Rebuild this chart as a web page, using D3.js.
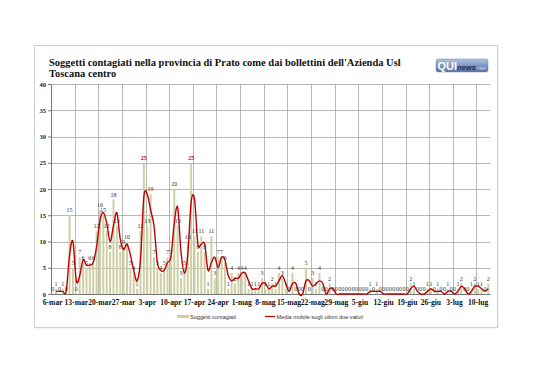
<!DOCTYPE html>
<html><head><meta charset="utf-8">
<script src="https://cdn.jsdelivr.net/npm/d3@7"></script>
<style>
html,body{margin:0;padding:0;background:#fff;}
svg{display:block;}
</style></head>
<body>
<script>
// ---- DATA ----
const startDate = "2020-03-06";
const cases = [0,1,0,1,0,15,5,0,7,6,5,6,6,12,16,15,12,8,18,13,8,9,10,5,4,1,12,25,13,19,7,5,4,5,7,7,20,13,3,5,10,25,11,8,11,8,1,11,3,7,7,6,1,4,2,4,4,4,1,1,1,1,3,1,1,2,1,4,3,1,0,4,0,0,0,5,0,3,1,4,0,0,2,0,0,0,0,0,0,0,0,0,0,0,1,0,1,0,0,0,0,0,0,0,0,0,2,1,0,0,0,1,1,0,1,0,0,1,0,0,1,2,0,0,1,2,1,1,0,2];
const movingAvg = [null,0.5,0.5,0.5,0.5,7.5,10,2.5,3.5,6.5,5.5,5.5,6,9,14,15.5,13.5,10,13,15.5,10.5,8.5,9.5,7.5,4.5,2.5,6.5,18.5,19,16,13,6,4.5,4.5,6,7,13.5,16.5,8,4,7.5,17.5,18,9.5,9.5,9.5,4.5,6,7,5,7,6.5,3.5,2.5,3,3,4,4,2.5,1,1,1,2,2,1,1.5,1.5,2.5,3.5,2,0.5,2,2,0,0,2.5,2.5,1.5,2,2.5,2,0,1,1,0,0,0,0,0,0,0,0,0,0,0.5,0.5,0.5,0.5,0,0,0,0,0,0,0,0,1,1.5,0.5,0,0,0.5,1,0.5,0.5,0.5,0,0.5,0.5,0,0.5,1.5,1,0,0.5,1.5,1.5,1,0.5,1];
const xTickLabels = ["6-mar","13-mar","20-mar","27-mar","3-apr","10-apr","17-apr","24-apr","1-mag","8-mag","15-mag","22-mag","29-mag","5-giu","12-giu","19-giu","26-giu","3-lug","10-lug"];
const yTicks = [0,5,10,15,20,25,30,35,40];
const titleLines = ["Soggetti contagiati nella provincia di Prato come dai bollettini dell'Azienda Usl","Toscana centro"];
const seriesNames = ["Soggetti contagiati","Media mobile sugli ultimi due valori"];

// ---- CHART ----
const W = 538, H = 380;
const svg = d3.select("body").append("svg").attr("width", W).attr("height", H);

const serif = "'Liberation Serif','Times New Roman',serif";
const sans = "'Liberation Sans',Arial,sans-serif";

// card
svg.append("rect").attr("x",35.5).attr("y",46.5).attr("width",463).attr("height",282).attr("fill","#e6e6e6");
svg.append("rect").attr("x",34.5).attr("y",45.5).attr("width",463).attr("height",282)
  .attr("fill","#fff").attr("stroke","#cfcfcf");

// title
titleLines.forEach((t,i)=>{
  const tx = svg.append("text").attr("x",49).attr("y",65.5 + i*11)
    .attr("font-family",serif).attr("font-weight","bold").attr("font-size",9.5)
    .attr("fill","#111").text(t);
  if(i===0){
    const len = tx.node().getComputedTextLength();
    const fs = 9.5*352/len;
    svg.selectAll("text").attr("font-size",fs);
    svg.attr("data-fs",fs);
  } else {
    tx.attr("font-size", +svg.attr("data-fs"));
  }
});

// logo
const defs = svg.append("defs");
const lg = defs.append("linearGradient").attr("id","lg").attr("x1",0).attr("y1",0).attr("x2",0).attr("y2",1);
lg.append("stop").attr("offset","0%").attr("stop-color","#b4c4e2");
lg.append("stop").attr("offset","50%").attr("stop-color","#7d96c6");
lg.append("stop").attr("offset","100%").attr("stop-color","#56719f");
svg.append("rect").attr("x",436).attr("y",59).attr("width",52).attr("height",13).attr("rx",2)
  .attr("fill","url(#lg)").attr("stroke","#6f86b3").attr("stroke-width",0.5);
const logo = svg.append("text").attr("x",437.5).attr("y",70).attr("font-family",sans);
logo.append("tspan").attr("font-size",11).attr("font-weight","bold").attr("fill","#fff").text("QUI");
logo.append("tspan").attr("font-size",7.5).attr("font-weight","bold").attr("font-style","italic").attr("fill","#1d2d5a").text("news");
logo.append("tspan").attr("font-size",6).attr("fill","#cfdbf2").text(".net");

// scales
const start = d3.timeParse("%Y-%m-%d")(startDate);
const days = cases.map((v,i)=> d3.timeDay.offset(start, i));
const pIn = 0.42;
const x = d3.scaleBand().domain(days).range([51,490]).paddingInner(pIn).paddingOuter(pIn/2);
const step = x.step();
const y = d3.scaleLinear().domain([0,40]).range([294,84]);
const weekly = days.filter((d,i)=> i%7===0);

// gridlines
const grid = svg.append("g").attr("stroke","#a6a6a6").attr("stroke-width",0.8).attr("shape-rendering","crispEdges");
yTicks.filter(t=>t>0).forEach(t=>{
  grid.append("line").attr("x1",51).attr("x2",490).attr("y1",Math.round(y(t))+0.5).attr("y2",Math.round(y(t))+0.5);
});
weekly.forEach((d,i)=>{
  if(i===0) return;
  const gx = Math.round(x(d) - step*pIn/2)+0.5;
  grid.append("line").attr("x1",gx).attr("x2",gx).attr("y1",84).attr("y2",294);
});

// bars
svg.append("g").selectAll("rect").data(cases).join("rect")
  .attr("x",(v,i)=>x(days[i])).attr("width",x.bandwidth())
  .attr("y",v=>y(v)).attr("height",v=>y(0)-y(v))
  .attr("fill","#cdd0a3");

// axes
const yAxis = svg.append("g").attr("transform","translate(51,0)")
  .call(d3.axisLeft(y).tickValues(yTicks).tickSize(3).tickPadding(2).tickFormat(d3.format("d")));
yAxis.select(".domain").attr("stroke","#777");
yAxis.selectAll(".tick line").attr("stroke","#777");
yAxis.selectAll("text").attr("font-family",serif).attr("font-weight","bold").attr("font-size",6.5).attr("fill","#222");

const xAxis = svg.append("g").attr("transform","translate(0,294)")
  .call(d3.axisBottom(x).tickValues(weekly).tickSize(0).tickPadding(6).tickFormat((d,i)=>xTickLabels[i]));
xAxis.select(".domain").attr("stroke","#777");
xAxis.selectAll("text").attr("font-family",serif).attr("font-weight","bold").attr("font-size",7.6).attr("fill","#111");

// moving average line
const pts = movingAvg.map((v,i)=>({d:days[i],v})).filter(p=>p.v!==null);
const line = d3.line().x(p=>x(p.d)+x.bandwidth()/2).y(p=>y(p.v)).curve(d3.curveCardinal.tension(0));
svg.append("path").datum(pts).attr("d",line).attr("fill","none")
  .attr("stroke","#c00000").attr("stroke-width",1.4).attr("stroke-linejoin","round");

// data labels
svg.append("g").selectAll("text").data(cases).join("text")
  .attr("x",(v,i)=>x(days[i])+x.bandwidth()/2).attr("y",v=>y(v)-3)
  .attr("text-anchor","middle").attr("font-family",serif).attr("font-size",6)
  .attr("font-weight",v=>v===25?"bold":"normal")
  .attr("fill",v=>v===25?"#c00000":"#333").text(v=>v);

// legend
const leg = svg.append("g");
leg.append("rect").attr("x",177).attr("y",315).attr("width",12).attr("height",3).attr("fill","#cdd0a3");
leg.append("text").attr("x",190).attr("y",318.8).attr("font-family",sans).attr("font-size",5.6).attr("fill","#333").text(seriesNames[0]);
leg.append("line").attr("x1",265).attr("x2",275).attr("y1",316.5).attr("y2",316.5).attr("stroke","#c00000").attr("stroke-width",1.2);
leg.append("text").attr("x",276.5).attr("y",318.8).attr("font-family",sans).attr("font-size",5.6).attr("fill","#333").text(seriesNames[1]);
</script>
</body></html>
